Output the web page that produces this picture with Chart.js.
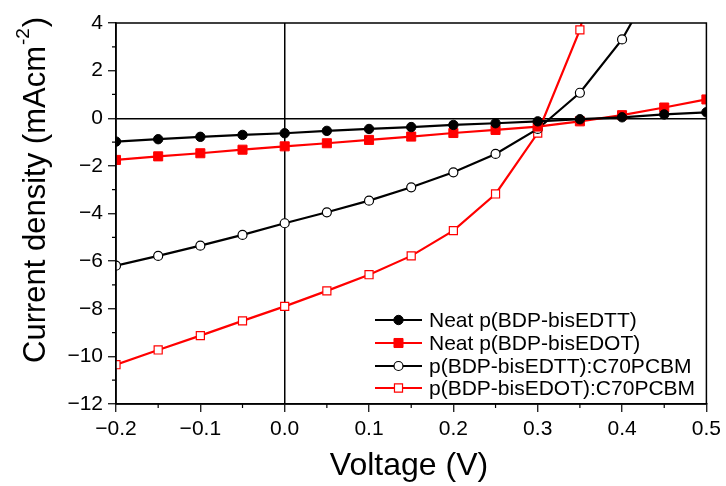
<!DOCTYPE html>
<html>
<head>
<meta charset="utf-8">
<script src="https://cdn.jsdelivr.net/npm/chart.js@4.4.1/dist/chart.umd.min.js"></script>
<style>
  html, body { margin: 0; padding: 0; background: #fff; }
  canvas { display: block; }
</style>
</head>
<body>
<canvas id="jv" width="726" height="486"></canvas>
<script>
// J-V curves, values
const voltage = [-0.2, -0.15, -0.1, -0.05, 0, 0.05, 0.1, 0.15, 0.2, 0.25, 0.3, 0.35, 0.4, 0.45, 0.5];

const neatEDTT = [-0.98, -0.88, -0.78, -0.70, -0.63, -0.53, -0.45, -0.37, -0.28, -0.21, -0.13, -0.04, 0.04, 0.16, 0.25];
const neatEDOT = [-1.75, -1.60, -1.47, -1.32, -1.18, -1.05, -0.91, -0.77, -0.62, -0.49, -0.35, -0.13, 0.13, 0.45, 0.79];
const edttC70 = [-6.19, -5.78, -5.35, -4.90, -4.41, -3.95, -3.46, -2.90, -2.27, -1.50, -0.45, 1.07, 3.31, 6.45];
const edotC70 = [-10.35, -9.73, -9.13, -8.51, -7.90, -7.25, -6.57, -5.78, -4.72, -3.18, -0.62, 3.71, 11.0];

const seriesNames = [
  "Neat p(BDP-bisEDTT)",
  "Neat p(BDP-bisEDOT)",
  "p(BDP-bisEDTT):C70PCBM",
  "p(BDP-bisEDOT):C70PCBM",
];

const minorX = [-0.15, -0.05, 0.05, 0.15, 0.25, 0.35, 0.45];
const minorY = [-11, -9, -7, -5, -3, -1, 1, 3];

const FONT = "'Liberation Sans', Arial, sans-serif";

function pts(arr) {
  return arr.map((y, i) => ({ x: voltage[i], y: y }));
}

function fmt(v, digits) {
  const s = Math.abs(v) < 1e-9 ? (0).toFixed(digits) : v.toFixed(digits);
  return s.replace("-", "\u2212");
}

// frame, minor ticks, axis titles and the in-plot legend
const extras = {
  id: "extras",
  afterDraw(chart) {
    const ctx = chart.ctx;
    const a = chart.chartArea;
    const xs = chart.scales.x;
    const ys = chart.scales.y;
    ctx.save();

    ctx.strokeStyle = "#000";
    ctx.lineWidth = 1.5;
    ctx.strokeRect(a.left, a.top, a.right - a.left, a.bottom - a.top);

    ctx.lineWidth = 1.2;
    ctx.beginPath();
    minorX.forEach((v) => {
      const p = xs.getPixelForValue(v);
      ctx.moveTo(p, a.bottom);
      ctx.lineTo(p, a.bottom + 4);
    });
    minorY.forEach((v) => {
      const p = ys.getPixelForValue(v);
      ctx.moveTo(a.left, p);
      ctx.lineTo(a.left - 4, p);
    });
    ctx.stroke();

    // axis titles
    ctx.fillStyle = "#000";
    ctx.font = "32px " + FONT;
    ctx.textAlign = "center";
    ctx.textBaseline = "alphabetic";
    ctx.fillText("Voltage (V)", 409, 475);

    ctx.save();
    ctx.translate(45, 363);
    ctx.rotate(-Math.PI / 2);
    ctx.textAlign = "left";
    const main = "Current density (mAcm";
    ctx.font = "31px " + FONT;
    ctx.fillText(main, 0, 0);
    let w = ctx.measureText(main).width;
    ctx.font = "19px " + FONT;
    ctx.fillText("-2", w + 1, -16);
    w += ctx.measureText("-2").width + 2;
    ctx.font = "31px " + FONT;
    ctx.fillText(")", w, 0);
    ctx.restore();

    // legend
    const rowY = [320, 343, 366, 388];
    ctx.font = "21px " + FONT;
    ctx.textAlign = "left";
    ctx.textBaseline = "middle";
    chart.data.datasets.forEach((ds, i) => {
      const y = rowY[i];
      ctx.strokeStyle = ds.borderColor;
      ctx.lineWidth = ds.borderWidth;
      ctx.beginPath();
      ctx.moveTo(375, y);
      ctx.lineTo(422, y);
      ctx.stroke();

      ctx.fillStyle = ds.pointBackgroundColor;
      ctx.strokeStyle = ds.pointBorderColor;
      ctx.lineWidth = ds.pointBorderWidth;
      ctx.beginPath();
      if (ds.pointStyle === "circle") {
        ctx.arc(398.5, y, ds.pointRadius, 0, Math.PI * 2);
      } else {
        const h = ds.pointRadius * Math.SQRT1_2;
        ctx.rect(398.5 - h, y - h, 2 * h, 2 * h);
      }
      ctx.fill();
      ctx.stroke();

      ctx.fillStyle = "#000";
      ctx.fillText(ds.label, 429, y + 1);
    });

    ctx.restore();
  },
};

new Chart(document.getElementById("jv"), {
  type: "line",
  data: {
    datasets: [
      {
        label: seriesNames[0],
        data: pts(neatEDTT),
        borderColor: "#000",
        borderWidth: 2.2,
        pointStyle: "circle",
        pointRadius: 4.7,
        pointBackgroundColor: "#000",
        pointBorderColor: "#000",
        pointBorderWidth: 1,
      },
      {
        label: seriesNames[1],
        data: pts(neatEDOT),
        borderColor: "#ff0000",
        borderWidth: 2.2,
        pointStyle: "rect",
        pointRadius: 6.4,
        pointBackgroundColor: "#ff0000",
        pointBorderColor: "#ff0000",
        pointBorderWidth: 1,
      },
      {
        label: seriesNames[2],
        data: pts(edttC70),
        borderColor: "#000",
        borderWidth: 2.2,
        pointStyle: "circle",
        pointRadius: 4.5,
        pointBackgroundColor: "#fff",
        pointBorderColor: "#000",
        pointBorderWidth: 1.2,
      },
      {
        label: seriesNames[3],
        data: pts(edotC70),
        borderColor: "#ff0000",
        borderWidth: 2.2,
        pointStyle: "rect",
        pointRadius: 5.7,
        pointBackgroundColor: "#fff",
        pointBorderColor: "#ff0000",
        pointBorderWidth: 1.2,
      },
    ],
  },
  options: {
    responsive: false,
    animation: false,
    layout: { padding: { top: 23, right: 19, left: 0, bottom: 0 } },
    plugins: {
      legend: { display: false },
      tooltip: { enabled: false },
    },
    scales: {
      x: {
        type: "linear",
        min: -0.2,
        max: 0.5,
        afterFit: (scale) => { scale.height = 82; },
        ticks: {
          stepSize: 0.1,
          color: "#000",
          padding: 5,
          maxRotation: 0,
          font: { family: FONT, size: 21 },
          callback: (v) => fmt(v, 1),
        },
        grid: {
          color: (c) => (c.tick && Math.abs(c.tick.value) < 1e-9 ? "#000" : "rgba(0,0,0,0)"),
          lineWidth: 1.5,
          tickColor: "#000",
          tickWidth: 1.2,
          tickLength: 8,
        },
        border: { display: true, color: "#000", width: 1.5 },
      },
      y: {
        min: -12,
        max: 4,
        afterFit: (scale) => { scale.width = 116; },
        ticks: {
          stepSize: 2,
          color: "#000",
          padding: 5,
          font: { family: FONT, size: 21 },
          callback: (v) => fmt(v, 0),
        },
        grid: {
          color: (c) => (c.tick && c.tick.value === 0 ? "#000" : "rgba(0,0,0,0)"),
          lineWidth: 1.5,
          tickColor: "#000",
          tickWidth: 1.2,
          tickLength: 8,
        },
        border: { display: true, color: "#000", width: 1.5 },
      },
    },
  },
  plugins: [extras],
});
</script>
</body>
</html>
